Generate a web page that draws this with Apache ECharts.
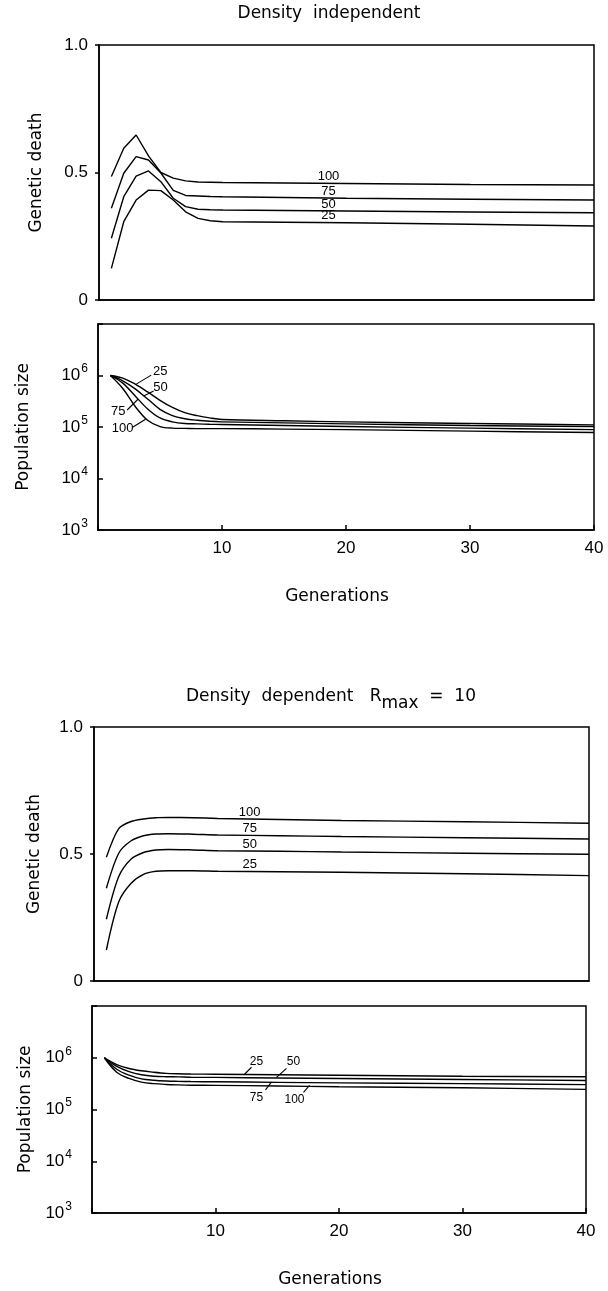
<!DOCTYPE html>
<html><head><meta charset="utf-8">
<script src="https://cdn.jsdelivr.net/npm/echarts@6/dist/echarts.min.js"></script>
<style>html,body{margin:0;padding:0;background:#fff}#c{width:608px;height:1291px}</style>
</head><body><div id="c"></div>
<script>
// ---------- data ----------
const curveNames = ['100', '75', '50', '25'];
const xTicks = [10, 20, 30, 40];
const deathTickLabels = ['0', '0.5', '1.0'];
const popExponents = [3, 4, 5, 6];

// Density independent: genetic death
const gensIndepDeath = [1, 2, 3, 4, 5, 6, 7, 8, 9, 10, 20, 30, 40];
const indepDeath100 = [0.484, 0.595, 0.647, 0.565, 0.500, 0.478, 0.467, 0.463, 0.462, 0.461, 0.457, 0.453, 0.451];
const indepDeath75  = [0.360, 0.497, 0.562, 0.549, 0.498, 0.430, 0.410, 0.408, 0.406, 0.405, 0.399, 0.395, 0.392];
const indepDeath50  = [0.242, 0.405, 0.486, 0.506, 0.464, 0.399, 0.366, 0.356, 0.354, 0.353, 0.349, 0.345, 0.342];
const indepDeath25  = [0.124, 0.307, 0.392, 0.431, 0.429, 0.392, 0.346, 0.320, 0.311, 0.307, 0.303, 0.297, 0.290];

// Density independent: population size
const gensIndepPop = [1, 2, 3, 4, 5, 6, 7, 8, 9, 10, 15, 20, 30, 40];
const indepPop100 = [1.0e6, 5.6e5, 2.5e5, 1.35e5, 1.02e5, 9.5e4, 9.4e4, 9.3e4, 9.3e4, 9.3e4, 9.1e4, 8.9e4, 8.3e4, 7.8e4];
const indepPop75  = [1.0e6, 7.1e5, 4.0e5, 2.24e5, 1.5e5, 1.26e5, 1.17e5, 1.15e5, 1.13e5, 1.12e5, 1.07e5, 1.02e5, 9.5e4, 8.9e4];
const indepPop50  = [1.0e6, 7.9e5, 5.5e5, 3.5e5, 2.2e5, 1.66e5, 1.45e5, 1.35e5, 1.29e5, 1.26e5, 1.2e5, 1.15e5, 1.07e5, 1.02e5];
const indepPop25  = [1.0e6, 8.9e5, 6.8e5, 4.8e5, 3.3e5, 2.4e5, 1.9e5, 1.66e5, 1.5e5, 1.4e5, 1.32e5, 1.26e5, 1.17e5, 1.1e5];

// Density dependent: genetic death
const gensDepDeath = [1, 2, 3, 4, 5, 6, 8, 10, 15, 20, 30, 40];
const depDeath100 = [0.487, 0.600, 0.628, 0.638, 0.643, 0.644, 0.643, 0.640, 0.636, 0.632, 0.627, 0.621];
const depDeath75  = [0.365, 0.503, 0.552, 0.572, 0.579, 0.580, 0.578, 0.575, 0.572, 0.569, 0.564, 0.559];
const depDeath50  = [0.243, 0.411, 0.480, 0.506, 0.516, 0.518, 0.516, 0.513, 0.511, 0.508, 0.503, 0.499];
const depDeath25  = [0.122, 0.312, 0.385, 0.420, 0.432, 0.434, 0.434, 0.432, 0.430, 0.428, 0.422, 0.415];

// Density dependent: population size
const gensDepPop = [1, 2, 3, 4, 5, 6, 7, 8, 10, 15, 20, 30, 40];
const depPop100 = [1.0e6, 5.25e5, 3.98e5, 3.39e5, 3.16e5, 3.05e5, 2.99e5, 2.95e5, 2.92e5, 2.85e5, 2.75e5, 2.63e5, 2.45e5];
const depPop75  = [1.0e6, 6.0e5, 4.6e5, 3.9e5, 3.67e5, 3.55e5, 3.5e5, 3.47e5, 3.43e5, 3.35e5, 3.27e5, 3.16e5, 3.02e5];
const depPop50  = [1.0e6, 6.8e5, 5.4e5, 4.7e5, 4.4e5, 4.3e5, 4.27e5, 4.2e5, 4.17e5, 4.07e5, 3.98e5, 3.8e5, 3.63e5];
const depPop25  = [1.0e6, 7.4e5, 6.2e5, 5.6e5, 5.25e5, 5.0e5, 4.9e5, 4.85e5, 4.8e5, 4.7e5, 4.6e5, 4.4e5, 4.3e5];

// ---------- chart ----------
const WORD_FONT = '"DejaVu Sans", sans-serif';
const NUM_FONT = '"Liberation Sans", Arial, sans-serif';

const panels = [
  { gens: gensIndepDeath, series: [indepDeath100, indepDeath75, indepDeath50, indepDeath25], smooth: false },
  { gens: gensIndepPop, series: [indepPop100, indepPop75, indepPop50, indepPop25], smooth: 0.35 },
  { gens: gensDepDeath, series: [depDeath100, depDeath75, depDeath50, depDeath25], smooth: 0.3 },
  { gens: gensDepPop, series: [depPop100, depPop75, depPop50, depPop25], smooth: 0.35 }
];

const grids = [
  { left: 99, top: 45, width: 495, height: 255 },
  { left: 98, top: 324, width: 496, height: 206 },
  { left: 94, top: 727, width: 495, height: 254 },
  { left: 92, top: 1006, width: 494, height: 207 }
].map(g => Object.assign(g, { show: true, borderColor: '#000', borderWidth: 1.5, containLabel: false, outerBoundsMode: 'none' }));

const blackLine = { lineStyle: { color: '#000', width: 1.5 } };

function xAxisFor(i, withLabels) {
  return {
    type: 'value', gridIndex: i, min: 0, max: 40, interval: 10,
    axisLine: Object.assign({ show: true, onZero: false }, blackLine),
    axisTick: { show: withLabels, inside: true, length: 5, lineStyle: { color: '#000', width: 1.5 } },
    axisLabel: {
      show: withLabels, color: '#000', fontFamily: NUM_FONT, fontSize: 17, margin: 10,
      formatter: v => xTicks.indexOf(v) >= 0 ? String(v) : ''
    },
    splitLine: { show: false },
    name: withLabels ? 'Generations' : '', nameLocation: 'middle', nameGap: 58,
    nameTextStyle: { color: '#000', fontFamily: WORD_FONT, fontSize: 17, padding: [0, 18, 0, 0] }
  };
}

function deathYAxis(i, nameGap) {
  return {
    type: 'value', gridIndex: i, min: 0, max: 1, interval: 0.5,
    axisLine: Object.assign({ show: true }, blackLine),
    axisTick: { show: true, inside: false, length: 4, lineStyle: { color: '#000', width: 1.5 } },
    axisLabel: {
      color: '#000', fontFamily: NUM_FONT, fontSize: 17, margin: 11,
      formatter: v => deathTickLabels[Math.round(v * 2)]
    },
    splitLine: { show: false },
    name: 'Genetic death', nameLocation: 'middle', nameGap: nameGap,
    nameTextStyle: { color: '#000', fontFamily: WORD_FONT, fontSize: 17 }
  };
}

function popYAxis(i, nameGap, margin) {
  return {
    type: 'log', logBase: 10, gridIndex: i, min: 1e3, max: 1e7,
    axisLine: Object.assign({ show: true }, blackLine),
    axisTick: { show: true, inside: true, length: 5, lineStyle: { color: '#000', width: 1.5 } },
    axisLabel: {
      color: '#000', margin: margin,
      formatter: v => {
        const e = Math.round(Math.log10(v));
        return popExponents.indexOf(e) >= 0 ? '{b|10}{s|' + e + '}' : '';
      },
      rich: {
        b: { fontFamily: NUM_FONT, fontSize: 17, color: '#000' },
        s: { fontFamily: NUM_FONT, fontSize: 12, color: '#000', padding: [0, 0, 13, 1] }
      }
    },
    splitLine: { show: false }, minorTick: { show: false },
    name: 'Population size', nameLocation: 'middle', nameGap: nameGap,
    nameTextStyle: { color: '#000', fontFamily: WORD_FONT, fontSize: 17 }
  };
}

const series = [];
panels.forEach((p, i) => {
  p.series.forEach((vals, k) => {
    series.push({
      type: 'line', name: curveNames[k], xAxisIndex: i, yAxisIndex: i,
      data: p.gens.map((g, j) => [g, vals[j]]),
      symbol: 'none', showSymbol: false, smooth: p.smooth, silent: true,
      lineStyle: { color: '#000', width: 1.4 }, z: 3
    });
  });
});

const chart = echarts.init(document.getElementById('c'), null, { renderer: 'canvas' });
chart.setOption({
  animation: false,
  backgroundColor: '#fff',
  grid: grids,
  xAxis: [xAxisFor(0, false), xAxisFor(1, true), xAxisFor(2, false), xAxisFor(3, true)],
  yAxis: [deathYAxis(0, 54), popYAxis(1, 66, 10), deathYAxis(2, 51), popYAxis(3, 47, 20)],
  series: series
});

// ---------- curve labels (anchored on data points) ----------
function pt(panelIdx, curveIdx, gen) {
  const p = panels[panelIdx];
  const j = p.gens.indexOf(gen);
  return chart.convertToPixel({ xAxisIndex: panelIdx, yAxisIndex: panelIdx }, [gen, p.series[curveIdx][j]]);
}

const graphics = [];
graphics.push({
  type: 'text', x: 329, y: 14,
  style: { text: 'Density  independent', font: '17px ' + WORD_FONT, fill: '#000', align: 'center', verticalAlign: 'middle' }
});
graphics.push({
  type: 'text', x: 331, y: 697,
  style: {
    text: 'Density  dependent   {r|R}{m|max}  {r|=}  {r|10}', fill: '#000', align: 'center', verticalAlign: 'middle',
    font: '17px ' + WORD_FONT,
    rich: {
      r: { fontFamily: WORD_FONT, fontSize: 17, fill: '#000' },
      m: { fontFamily: WORD_FONT, fontSize: 17, fill: '#000', padding: [14, 0, 0, 0] }
    }
  }
});

// Panel 1 & 3: labels sitting just above each line
[[0, 20, -18], [2, 15, -30]].forEach(([pi, gen, dx]) => {
  curveNames.forEach((nm, k) => {
    const a = pt(pi, k, gen);
    graphics.push({
      type: 'text', x: a[0] + dx, y: a[1] - 0.5,
      style: { text: nm, font: '13px ' + NUM_FONT, fill: '#000', align: 'center', verticalAlign: 'bottom' }
    });
  });
});

// Panel 2 & 4: labels with leader lines
const leaderSpecs = [
  { p: 1, k: 3, gen: 3, lab: [25, -13], s: [1, 0], e: [16, -9], f: 13 },
  { p: 1, k: 2, gen: 4, lab: [13, -12], s: [-4, -3], e: [6, -8], f: 13 },
  { p: 1, k: 1, gen: 3, lab: [-17, 15], s: [3, 3], e: [-8, 14], f: 13 },
  { p: 1, k: 0, gen: 4, lab: [-25, 8], s: [-2, -1], e: [-15, 7], f: 13 },
  { p: 3, k: 3, gen: 10, lab: [41, -13], s: [29, 0], e: [36, -7], f: 12 },
  { p: 3, k: 2, gen: 10, lab: [78, -16], s: [61, 0], e: [71, -9], f: 12 },
  { p: 3, k: 1, gen: 10, lab: [41, 16], s: [56, 0], e: [50, 8], f: 12 },
  { p: 3, k: 0, gen: 10, lab: [79, 14], s: [94, 0], e: [88, 7], f: 12 }
];
leaderSpecs.forEach(sp => {
  const a = pt(sp.p, sp.k, sp.gen);
  graphics.push({
    type: 'line', shape: { x1: a[0] + sp.s[0], y1: a[1] + sp.s[1], x2: a[0] + sp.e[0], y2: a[1] + sp.e[1] },
    style: { stroke: '#000', lineWidth: 1.1 }
  });
  graphics.push({
    type: 'text', x: a[0] + sp.lab[0], y: a[1] + sp.lab[1],
    style: { text: curveNames[sp.k], font: sp.f + 'px ' + NUM_FONT, fill: '#000', align: 'center', verticalAlign: 'middle' }
  });
});

chart.setOption({ graphic: graphics });
</script>
</body></html>
